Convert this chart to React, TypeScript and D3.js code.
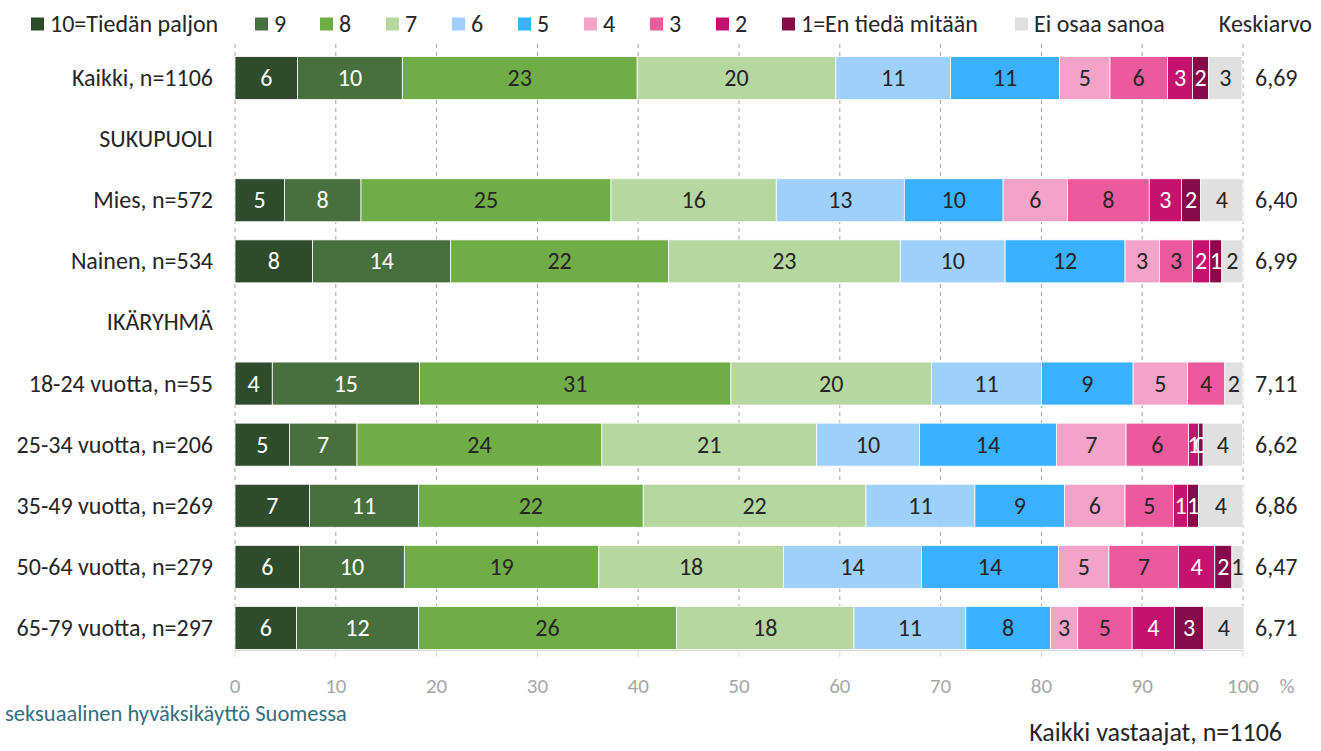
import React from "react";
import * as d3 from "d3";

const categories = [
  "10=Tiedän paljon", "9", "8", "7", "6", "5", "4", "3", "2", "1=En tiedä mitään", "Ei osaa sanoa",
];
const colors = [
  "#2E4B2C", "#47703E", "#70AD47", "#B6D8A0", "#9ED0FA", "#3AB0FF",
  "#F4A3C8", "#EC5A9E", "#C4126E", "#860B4B", "#E0E0E0",
];
const whiteText = [true, true, false, false, false, false, false, false, true, true, false];

const rowLabels = [
  "Kaikki, n=1106", "SUKUPUOLI", "Mies, n=572", "Nainen, n=534", "IKÄRYHMÄ",
  "18-24 vuotta, n=55", "25-34 vuotta, n=206", "35-49 vuotta, n=269",
  "50-64 vuotta, n=279", "65-79 vuotta, n=297",
];

const kaikki = [6.2, 10.4, 23.3, 19.7, 11.4, 10.8, 5.0, 5.7, 2.5, 1.6, 3.3];
const mies = [4.9, 7.6, 24.8, 16.4, 12.7, 9.8, 6.4, 8.1, 3.2, 1.9, 4.2];
const nainen = [7.7, 13.7, 21.6, 23.0, 10.4, 11.9, 3.4, 3.3, 1.7, 1.2, 2.1];
const age18 = [3.7, 14.6, 30.9, 19.9, 10.9, 9.1, 5.4, 3.7, 0, 0, 1.8];
const age25 = [5.4, 6.7, 24.3, 21.3, 10.2, 13.6, 6.9, 6.2, 1.0, 0.45, 3.9];
const age35 = [7.4, 10.8, 22.3, 22.1, 10.8, 8.9, 6.0, 4.8, 1.4, 1.1, 4.4];
const age50 = [6.4, 10.4, 19.3, 18.3, 13.7, 13.6, 5.0, 6.9, 3.6, 1.7, 1.1];
const age65 = [6.1, 12.1, 25.6, 17.6, 11.1, 8.4, 2.7, 5.4, 4.2, 2.9, 4.0];

const rowValues: (number[] | null)[] = [
  kaikki, null, mies, nainen, null, age18, age25, age35, age50, age65,
];
const means = ["6,69", null, "6,40", "6,99", null, "7,11", "6,62", "6,86", "6,47", "6,71"];

const xTicks = [0, 10, 20, 30, 40, 50, 60, 70, 80, 90, 100];
const legendX = [31, 255, 320, 386, 452, 518, 584, 650, 716, 782, 1015];

const FONT = "Carlito, 'Open Sans', sans-serif";
const W = 1321;
const H = 751;

export default function App() {
  const x = d3.scaleLinear().domain([0, 100]).range([235, 1243]);
  const y = d3
    .scalePoint<string>()
    .domain(rowLabels)
    .range([47.5, 658.5])
    .padding(0.5);
  const barH = 43;
  const textColor = "#262626";
  const fs = 24;
  const dy = 8;

  return (
    <div style={{ position: "absolute", left: 0, top: 0 }}>
      <svg width={W} height={H} style={{ display: "block", fontFamily: FONT }}>
        <rect width={W} height={H} fill="#fff" />
        {xTicks.map((t) => (
          <line
            key={"g" + t}
            x1={x(t)}
            x2={x(t)}
            y1={44}
            y2={650}
            stroke="#A6A6A6"
            strokeWidth={1}
            strokeDasharray="4,4"
          />
        ))}
        <line x1={x(0)} x2={x(100)} y1={650.5} y2={650.5} stroke="#D9D9D9" strokeWidth={1} />
        {xTicks.map((t) => (
          <line key={"t" + t} x1={x(t)} x2={x(t)} y1={650} y2={657} stroke="#D9D9D9" />
        ))}
        {xTicks.map((t) => (
          <text
            key={"tl" + t}
            x={x(t)}
            y={693}
            textAnchor="middle"
            fontSize={21}
            fontWeight={300}
            fill="#A6A6A6"
          >
            {t}
          </text>
        ))}
        <text x={1287} y={693} textAnchor="middle" fontSize={21} fontWeight={300} fill="#A6A6A6">
          %
        </text>

        {rowLabels.map((lab, i) => {
          const cy = y(lab) as number;
          const vals = rowValues[i];
          let acc = 0;
          return (
            <g key={lab}>
              <text x={213} y={cy + dy} textAnchor="end" fontSize={fs} fill={textColor}>
                {lab}
              </text>
              {vals &&
                vals.map((v, j) => {
                  const x0 = x(acc);
                  acc += v;
                  const x1 = x(acc);
                  if (v <= 0) return null;
                  return (
                    <g key={j}>
                      <rect
                        x={x0}
                        y={cy - barH / 2}
                        width={x1 - x0}
                        height={barH}
                        fill={colors[j]}
                        stroke="#fff"
                        strokeWidth={0.8}
                      />
                      <text
                        x={(x0 + x1) / 2}
                        y={cy + dy}
                        textAnchor="middle"
                        fontSize={fs}
                        fill={whiteText[j] ? "#fff" : textColor}
                      >
                        {Math.round(v)}
                      </text>
                    </g>
                  );
                })}
              {means[i] && (
                <text x={1255} y={cy + dy} fontSize={fs} fill={textColor}>
                  {means[i]}
                </text>
              )}
            </g>
          );
        })}

        {categories.map((c, i) => (
          <g key={"l" + c}>
            <rect x={legendX[i]} y={17.5} width={13} height={13} fill={colors[i]} />
            <text x={legendX[i] + 19} y={32} fontSize={fs} fill={textColor}>
              {c}
            </text>
          </g>
        ))}
        <text x={1312} y={32} textAnchor="end" fontSize={fs} fill={textColor}>
          Keskiarvo
        </text>

        <text x={5} y={721} fontSize={22.5} fill="#31707E">
          seksuaalinen hyväksikäyttö Suomessa
        </text>
        <text x={1282} y={741} textAnchor="end" fontSize={26} fill={textColor}>
          Kaikki vastaajat, n=1106
        </text>
      </svg>
    </div>
  );
}
